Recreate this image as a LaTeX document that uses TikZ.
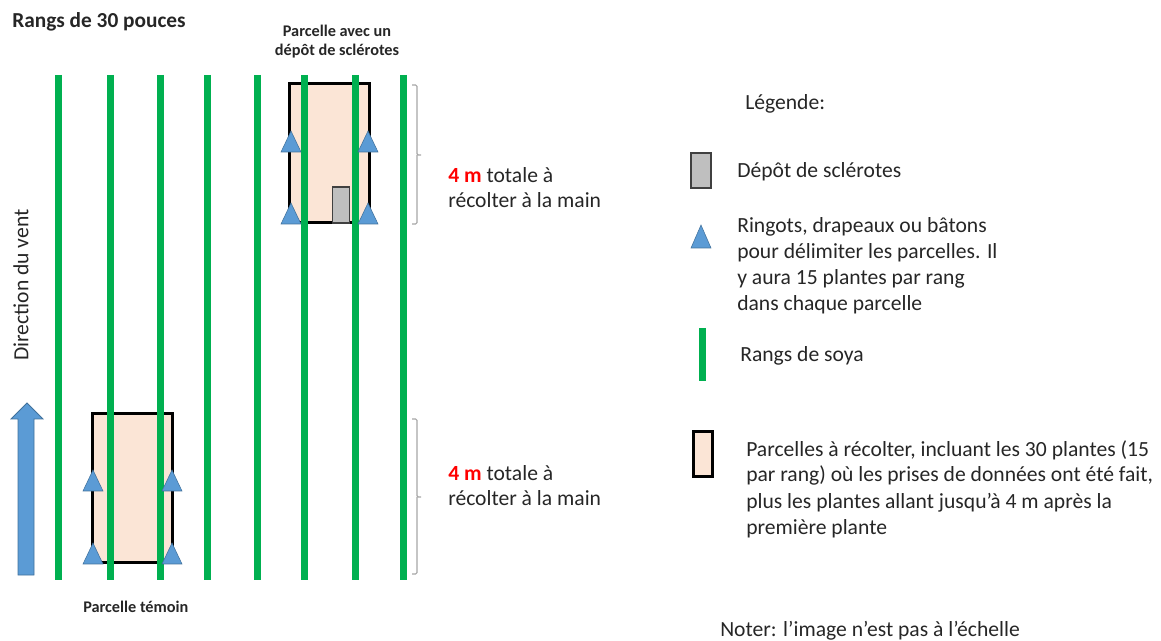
\documentclass[tikz,border=0pt]{standalone}
\usepackage{fontspec}
\setmainfont{Carlito}
\definecolor{rowgreen}{HTML}{00B050}
\definecolor{triblue}{HTML}{5B9BD5}
\definecolor{triedge}{HTML}{41719C}
\definecolor{peach}{HTML}{FBE5D6}
\definecolor{depot}{HTML}{BFBFBF}
\definecolor{txt}{HTML}{262626}
\definecolor{brace}{HTML}{A6A6A6}
\tikzset{
  row/.style={rowgreen, line width=5.25pt},
  plot/.style={fill=peach, draw=black, line width=2.25pt},
  depotbox/.style={fill=depot, draw=black!75, line width=0.9pt},
  marker/.style={fill=triblue, draw=triedge, line width=0.4pt},
  body/.style={text=txt, inner sep=0pt, font=\fontsize{16.2}{19.5}\selectfont},
  small/.style={text=txt, inner sep=0pt, font=\bfseries\fontsize{12.2}{13}\selectfont},
  bracket/.style={brace, line width=0.8pt, rounded corners=1pt},
}
\newcommand{\tri}[2]{\draw[marker] (#1-10,#2) -- (#1+10,#2) -- (#1,#2-21) -- cycle;}
\begin{document}
\begin{tikzpicture}[x=0.75pt,y=-0.75pt]
\useasboundingbox (0,0) rectangle (1161,641);
% plots
\draw[plot] (289,84) rectangle (369,223);
\draw[plot] (92,414) rectangle (172,563);
\draw[depotbox] (332.5,187) rectangle (349.5,223);
% rows
\foreach \x [count=\i] in {58,110,160,207,257,304,355,403}
  \draw[row] (\x,75) coordinate (r\i top) -- (\x,580) coordinate (r\i bot);
% markers
\tri{291}{152}\tri{368}{152}\tri{291}{224}\tri{368}{224}
\tri{93}{491}\tri{172}{491}\tri{93}{564}\tri{172}{564}
% wind arrow
\draw[fill=triblue, draw=triedge, line width=0.6pt] (18,575) -- (18,419) -- (11,419) -- (27,403) -- (43,419) -- (34,419) -- (34,575) -- cycle;
\node[body, rotate=90] (wind) at (21,285) {Direction du vent};
% brackets
\draw[bracket] (412,85) -- (417,85) -- (417,155) -- (421,155) (417,155) -- (417,224) -- (412,224);
\draw[bracket] (412,419) -- (417,419) -- (417,497) -- (421,497) (417,497) -- (417,574) -- (412,574);
\node[body, anchor=base west] (t1a) at (448,183) {\textcolor{red}{\bfseries 4 m} totale à};
\node[body, anchor=base west] (t1b) at (448,208) {récolter à la main};
\node[body, anchor=base west] (t2a) at (448,481) {\textcolor{red}{\bfseries 4 m} totale à};
\node[body, anchor=base west] (t2b) at (448,506) {récolter à la main};
% titles
\node[body, anchor=base west, font=\bfseries\fontsize{16}{19}\selectfont] (title) at (12,28) {Rangs de 30 pouces};
\node[small, anchor=base] (p1a) at (337,36.5) {Parcelle avec un};
\node[small, anchor=base] (p1b) at (337,56) {dépôt de sclérotes};
\node[small, anchor=base west] (p2) at (83,613) {Parcelle témoin};
% legend
\node[body, anchor=base west] (leg) at (745,110) {Légende:};
\draw[depotbox, line width=1pt] (691,153) rectangle (711,188);
\node[body, anchor=base west] (l1) at (737,178) {Dépôt de sclérotes};
\draw[marker] (691,248) -- (711,248) -- (701,225) -- cycle;
\node[body, anchor=base west] (l2a) at (737,233) {Ringots, drapeaux ou bâtons};
\node[body, anchor=base west] (l2b) at (737,259) {pour délimiter les parcelles. Il};
\node[body, anchor=base west] (l2c) at (737,285) {y aura 15 plantes par rang};
\node[body, anchor=base west] (l2d) at (737,311) {dans chaque parcelle};
\draw[row] (702,328) -- (702,381);
\node[body, anchor=base west] (l3) at (740,362) {Rangs de soya};
\draw[plot] (693,432) rectangle (712,477);
\node[body, anchor=base west] (l4a) at (746,457) {Parcelles à récolter, incluant les 30 plantes (15};
\node[body, anchor=base west] (l4b) at (746,482) {par rang) où les prises de données ont été fait,};
\node[body, anchor=base west] (l4c) at (746,509) {plus les plantes allant jusqu’à 4 m après la};
\node[body, anchor=base west] (l4d) at (746,535) {première plante};
\node[body, anchor=base west] (note) at (720,636) {Noter: l’image n’est pas à l’échelle};
\end{tikzpicture}
\end{document}
